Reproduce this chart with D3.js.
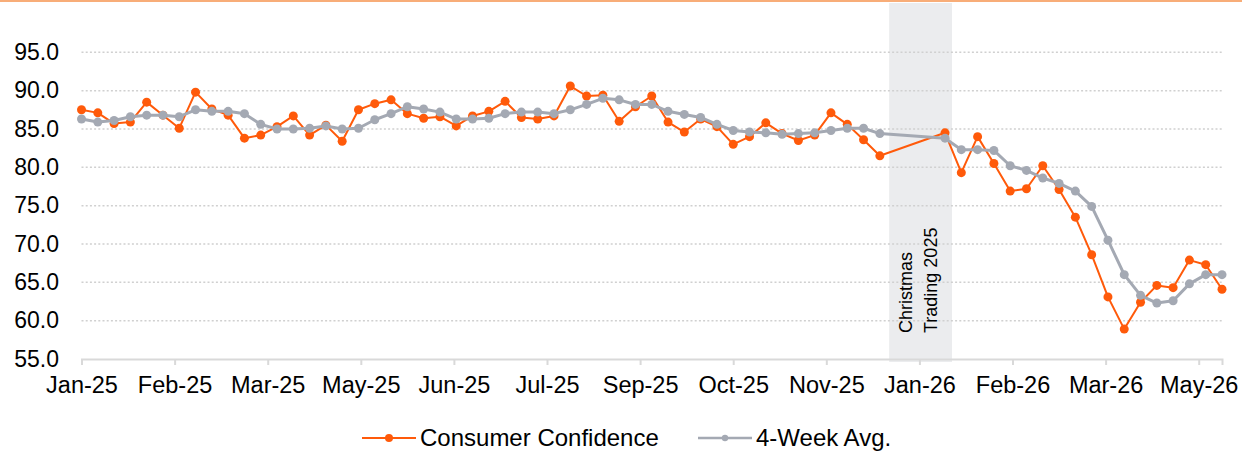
<!DOCTYPE html>
<html>
<head>
<meta charset="utf-8">
<script src="https://cdn.jsdelivr.net/npm/d3@7"></script>
<style>
  body { margin: 0; background: #fff; }
  svg text { font-family: "Liberation Sans", Arial, sans-serif; fill: #000; }
</style>
</head>
<body>
<div id="chart"></div>
<script>
var weeks = [
  "2025-01-07","2025-01-14","2025-01-21","2025-01-28","2025-02-04","2025-02-11","2025-02-18","2025-02-25",
  "2025-03-04","2025-03-11","2025-03-18","2025-03-25","2025-04-01","2025-04-08","2025-04-15","2025-04-22",
  "2025-04-29","2025-05-06","2025-05-13","2025-05-20","2025-05-27","2025-06-03","2025-06-10","2025-06-17",
  "2025-06-24","2025-07-01","2025-07-08","2025-07-15","2025-07-22","2025-07-29","2025-08-05","2025-08-12",
  "2025-08-19","2025-08-26","2025-09-02","2025-09-09","2025-09-16","2025-09-23","2025-09-30","2025-10-07",
  "2025-10-14","2025-10-21","2025-10-28","2025-11-04","2025-11-11","2025-11-18","2025-11-25","2025-12-02",
  "2025-12-09","2025-12-16",
  "2026-01-13","2026-01-20","2026-01-27","2026-02-03","2026-02-10","2026-02-17","2026-02-24","2026-03-03",
  "2026-03-10","2026-03-17","2026-03-24","2026-03-31","2026-04-07","2026-04-14","2026-04-21","2026-04-28",
  "2026-05-05","2026-05-12"
];

var confidence = [
  87.5, 87.1, 85.7, 85.9, 88.5, 86.8, 85.1, 89.8, 87.6, 86.8, 83.8, 84.2, 85.3, 86.7, 84.2,
  85.5, 83.4, 87.5, 88.3, 88.8, 87.0, 86.4, 86.6, 85.4, 86.7, 87.3, 88.6, 86.5, 86.3, 86.7, 90.6, 89.3, 89.4, 86.0,
  87.9, 89.3, 85.9, 84.6, 86.3, 85.3, 83.0, 84.0, 85.8, 84.4, 83.5, 84.2, 87.1, 85.6, 83.6, 81.5,
  84.5, 79.3, 84.0, 80.5, 76.9, 77.2, 80.2, 77.1, 73.5, 68.6, 63.1, 58.9, 62.4, 64.6, 64.3, 67.9, 67.3, 64.1
];

var avg4 = [
  86.3, 85.9, 86.1, 86.6, 86.8, 86.8, 86.6, 87.5, 87.3, 87.3, 87.0, 85.6, 85.0, 85.0, 85.1,
  85.4, 85.0, 85.1, 86.2, 87.0, 87.9, 87.6, 87.2, 86.3, 86.3, 86.4, 87.0, 87.2, 87.2, 87.0, 87.5, 88.2, 89.0, 88.8,
  88.2, 88.2, 87.3, 86.9, 86.5, 85.6, 84.8, 84.6, 84.5, 84.3, 84.4, 84.5, 84.8, 85.1, 85.1, 84.4,
  83.8, 82.3, 82.3, 82.2, 80.2, 79.6, 78.6, 77.9, 76.9, 74.9, 70.5, 66.0, 63.3, 62.3, 62.6, 64.8, 66.0, 66.0
];

var tickDates = [
  "2025-01-07","2025-02-16","2025-03-28","2025-05-07","2025-06-16","2025-07-26","2025-09-04",
  "2025-10-14","2025-11-23","2026-01-02","2026-02-11","2026-03-23","2026-05-02"
];
var yTicks = [55, 60, 65, 70, 75, 80, 85, 90, 95];
var christmas = ["2025-12-20", "2026-01-16"];
var seriesNames = ["Consumer Confidence", "4-Week Avg."];

var width = 1242, height = 452;
var orange = "#ff5a0a", grey = "#a4a9b3";
var parse = d3.timeParse("%Y-%m-%d");
var fmt = d3.timeFormat("%b-%y");

var svg = d3.select("#chart").append("svg")
  .attr("width", width)
  .attr("height", height);

// thin top border
svg.append("rect").attr("x", 0).attr("y", 0).attr("width", width).attr("height", 2)
  .attr("fill", "#f8ad78");

var x = d3.scaleTime()
  .domain([parse(weeks[0]), parse(weeks[weeks.length - 1])])
  .range([81.5, 1222]);
var y = d3.scaleLinear().domain([55, 95]).range([359, 52.3]);

// christmas band
svg.append("rect")
  .attr("x", x(parse(christmas[0])))
  .attr("width", x(parse(christmas[1])) - x(parse(christmas[0])))
  .attr("y", 3)
  .attr("height", 362 - 3)
  .attr("fill", "#ebecee");

// gridlines
svg.append("g").selectAll("line")
  .data(yTicks.slice(1))
  .enter().append("line")
  .attr("x1", x.range()[0]).attr("x2", x.range()[1])
  .attr("y1", function (d) { return y(d); })
  .attr("y2", function (d) { return y(d); })
  .attr("stroke", "#d0d0d0")
  .attr("stroke-width", 1.5)
  .attr("stroke-dasharray", "2,2.2");

// y labels
svg.append("g").selectAll("text")
  .data(yTicks)
  .enter().append("text")
  .attr("x", 59)
  .attr("y", function (d) { return y(d); })
  .attr("dy", "0.34em")
  .attr("text-anchor", "end")
  .style("font-size", "23px")
  .text(function (d) { return d.toFixed(1); });

// x axis
var xAxis = svg.append("g")
  .attr("transform", "translate(0," + y(55) + ")")
  .call(d3.axisBottom(x)
    .tickValues(tickDates.map(parse))
    .tickFormat(fmt)
    .tickSizeOuter(0)
    .tickSize(6)
    .tickPadding(11));
xAxis.select(".domain").attr("stroke", "#d9d9d9").attr("stroke-width", 2);
xAxis.selectAll(".tick line").attr("stroke", "#d9d9d9").attr("stroke-width", 2);
xAxis.selectAll(".tick text")
  .style("font-size", "23.5px")
  .style("font-family", "'Liberation Sans', Arial, sans-serif")
  .attr("fill", "#000");

// christmas label
var cx = x(parse(christmas[0]));
var lbl = svg.append("text")
  .attr("transform", "translate(" + (cx + 23) + ",333) rotate(-90)")
  .style("font-size", "18px");
lbl.append("tspan").attr("x", 0).attr("y", 0).text("Christmas");
lbl.append("tspan").attr("x", 0).attr("y", 25).text("Trading 2025");

var pts = weeks.map(function (w, i) {
  return { date: parse(w), conf: confidence[i], avg: avg4[i] };
});

function drawSeries(key, color, lw, r) {
  var line = d3.line()
    .x(function (d) { return x(d.date); })
    .y(function (d) { return y(d[key]); });
  var g = svg.append("g");
  g.append("path")
    .datum(pts)
    .attr("d", line)
    .attr("fill", "none")
    .attr("stroke", color)
    .attr("stroke-width", lw)
    .attr("stroke-linejoin", "round");
  g.selectAll("circle")
    .data(pts)
    .enter().append("circle")
    .attr("cx", function (d) { return x(d.date); })
    .attr("cy", function (d) { return y(d[key]); })
    .attr("r", r)
    .attr("fill", color);
}
drawSeries("conf", orange, 2, 4.5);
drawSeries("avg", grey, 3, 4.5);

// legend
var legend = [
  { name: seriesNames[0], color: orange, x: 362, lw: 2, r: 4 },
  { name: seriesNames[1], color: grey, x: 698, lw: 2.5, r: 3.2 }
];
var lg = svg.append("g").selectAll("g")
  .data(legend)
  .enter().append("g")
  .attr("transform", function (d) { return "translate(" + d.x + ",438)"; });
lg.append("line")
  .attr("x1", 0).attr("x2", 54)
  .attr("stroke", function (d) { return d.color; })
  .attr("stroke-width", function (d) { return d.lw; });
lg.append("circle")
  .attr("cx", 27)
  .attr("r", function (d) { return d.r; })
  .attr("fill", function (d) { return d.color; });
lg.append("text")
  .attr("x", 58)
  .attr("dy", "0.35em")
  .style("font-size", "24px")
  .text(function (d) { return d.name; });
</script>
</body>
</html>
